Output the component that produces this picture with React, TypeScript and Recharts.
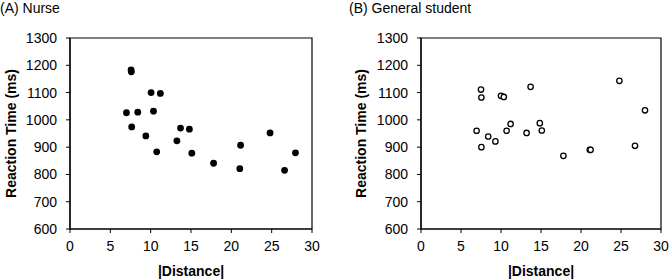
import { ScatterChart, Scatter, XAxis, YAxis, ReferenceArea } from "recharts";

// |Distance| and reaction time
const nurseDistance = [7.57, 7.6, 7.0, 7.65, 8.4, 9.4, 10.05, 11.2, 10.35, 10.75, 13.25, 13.7, 14.8, 15.1, 17.8, 21.15, 21.05, 24.8, 26.6, 27.95];
const nurseRT = [1183, 1176, 1026, 974, 1028, 941, 1100, 1097, 1032, 883, 923, 970, 966, 878, 841, 907, 821, 952, 815, 879];

const studentDistance = [7.5, 7.55, 6.95, 8.4, 9.3, 7.55, 10.0, 10.35, 10.7, 11.2, 13.2, 13.7, 14.85, 15.1, 17.8, 21.1, 21.2, 24.8, 26.75, 28.0];
const studentRT = [1111, 1082, 960, 939, 921, 900, 1088, 1084, 960, 985, 952, 1121, 988, 961, 868, 890, 890, 1143, 905, 1035];

const xTicks = [0, 5, 10, 15, 20, 25, 30];
const yTicks = [600, 700, 800, 900, 1000, 1100, 1200, 1300];

const FONT = "'Liberation Sans', Arial, sans-serif";

function toPoints(xs: number[], ys: number[]) {
  return xs.map((x, i) => ({ x, y: ys[i] }));
}

const filledDot = (props: any) => <circle cx={props.cx} cy={props.cy} r={3.4} fill="#000" />;
const openDot = (props: any) => (
  <circle cx={props.cx} cy={props.cy} r={2.7} fill="#fff" stroke="#000" strokeWidth={1.3} />
);

interface PanelProps {
  data: { x: number; y: number }[];
  width: number;
  marginLeft: number;
  marginRight: number;
  yLabelOffset: number;
  open?: boolean;
}

function Panel({ data, width, marginLeft, marginRight, yLabelOffset, open }: PanelProps) {
  return (
    <ScatterChart
      width={width}
      height={280}
      margin={{ top: 38, right: marginRight, bottom: 0, left: marginLeft }}
      style={{ fontFamily: FONT }}
    >
      <ReferenceArea x1={0} x2={30} y1={600} y2={1300} fill="none" stroke="#000" strokeWidth={1.2} strokeOpacity={1} />
      <XAxis
        type="number"
        dataKey="x"
        domain={[0, 30]}
        ticks={xTicks}
        height={51}
        tickSize={4}
        tickMargin={8}
        axisLine={{ stroke: "#000", strokeWidth: 1.2 }}
        tickLine={{ stroke: "#000" }}
        tick={{ fill: "#000", fontSize: 14 }}
        label={{
          value: "|Distance|",
          position: "insideBottom",
          offset: 4,
          style: { fill: "#000", fontSize: 14, fontWeight: "bold" },
        }}
      />
      <YAxis
        type="number"
        dataKey="y"
        domain={[600, 1300]}
        ticks={yTicks}
        width={65}
        tickSize={4}
        tickMargin={9}
        axisLine={{ stroke: "#000", strokeWidth: 1.2 }}
        tickLine={{ stroke: "#000" }}
        tick={{ fill: "#000", fontSize: 14 }}
        label={{
          value: "Reaction Time (ms)",
          angle: -90,
          position: "insideLeft",
          offset: yLabelOffset,
          style: { fill: "#000", fontSize: 14, fontWeight: "bold", textAnchor: "middle" },
        }}
      />
      <Scatter data={data} shape={open ? openDot : filledDot} isAnimationActive={false} />
    </ScatterChart>
  );
}

export default function App() {
  return (
    <div
      style={{
        position: "absolute",
        left: 0,
        top: 0,
        width: 669,
        height: 280,
        background: "#fff",
        fontFamily: FONT,
        overflow: "hidden",
      }}
    >
      <div style={{ position: "absolute", left: 0, top: 0, fontSize: 14, lineHeight: "16px", color: "#000" }}>
        (A) Nurse
      </div>
      <div style={{ position: "absolute", left: 349, top: 0, fontSize: 14, lineHeight: "16px", color: "#000" }}>
        (B) General student
      </div>
      <div style={{ position: "absolute", left: 0, top: 0 }}>
        <Panel data={toPoints(nurseDistance, nurseRT)} width={334} marginLeft={5} marginRight={22} yLabelOffset={6} />
      </div>
      <div style={{ position: "absolute", left: 334, top: 0 }}>
        <Panel
          data={toPoints(studentDistance, studentRT)}
          width={335}
          marginLeft={22}
          marginRight={8}
          yLabelOffset={5}
          open
        />
      </div>
    </div>
  );
}
